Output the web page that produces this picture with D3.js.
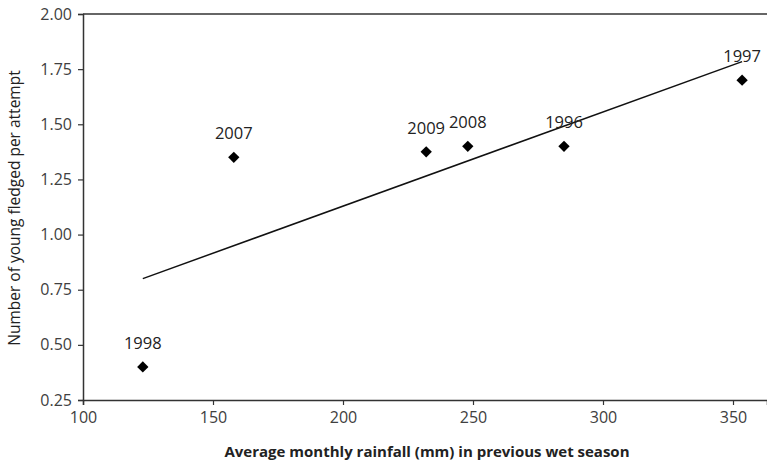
<!DOCTYPE html>
<html>
<head>
<meta charset="utf-8">
<script src="https://cdn.jsdelivr.net/npm/d3@7"></script>
<style>
  body { margin: 0; background: #fff; }
  svg { display: block; font-family: "Open Sans", "DejaVu Sans", sans-serif; }
</style>
</head>
<body>
<svg width="767" height="466"></svg>
<script>
// data
var years = ["1998", "2007", "2009", "2008", "1996", "1997"];
var rainfall = [123, 158, 232, 248, 285, 353.5];
var fledged = [0.40, 1.35, 1.375, 1.40, 1.40, 1.70];
var xTicks = [100, 150, 200, 250, 300, 350];
var yTicks = [0.25, 0.50, 0.75, 1.00, 1.25, 1.50, 1.75, 2.00];

var svg = d3.select("svg"),
    plotL = 83, plotT = 14, plotB = 400, plotR = 767;

var x = d3.scaleLinear().domain([100, 100 + (plotR - plotL) / 2.6]).range([plotL, plotR]);
var y = d3.scaleLinear().domain([0.25, 2.00]).range([plotB, plotT]);

var points = years.map(function (d, i) { return { year: d, x: rainfall[i], y: fledged[i] }; });

// least squares trendline through the points
var mx = d3.mean(rainfall), my = d3.mean(fledged);
var sxy = d3.sum(points, function (d) { return (d.x - mx) * (d.y - my); });
var sxx = d3.sum(points, function (d) { return (d.x - mx) * (d.x - mx); });
var slope = sxy / sxx, icpt = my - slope * mx;
var xmin = d3.min(rainfall), xmax = d3.max(rainfall);

// top border
svg.append("line")
    .attr("x1", plotL).attr("x2", plotR)
    .attr("y1", plotT).attr("y2", plotT)
    .attr("stroke", "#333").attr("stroke-width", 1.5);

var xAxis = svg.append("g")
    .attr("transform", "translate(0," + plotB + ")")
    .call(d3.axisBottom(x).tickValues(xTicks).tickSize(5).tickPadding(7).tickFormat(d3.format("d")));

var yAxis = svg.append("g")
    .attr("transform", "translate(" + plotL + ",0)")
    .call(d3.axisLeft(y).tickValues(yTicks).tickSize(5).tickPadding(6).tickFormat(d3.format(".2f")));

[xAxis, yAxis].forEach(function (a) {
    a.select(".domain").attr("stroke", "#333").attr("stroke-width", 1.5);
    a.selectAll(".tick line").attr("stroke", "#333").attr("stroke-width", 1.2);
    a.selectAll(".tick text")
        .attr("fill", "#404040")
        .style("font-size", "16px")
        .style("font-family", "'Open Sans', sans-serif");
});

// trendline
svg.append("line")
    .attr("x1", x(xmin)).attr("y1", y(icpt + slope * xmin))
    .attr("x2", x(xmax)).attr("y2", y(icpt + slope * xmax))
    .attr("stroke", "#111").attr("stroke-width", 1.5);

// diamond markers
svg.selectAll("path.pt")
    .data(points)
    .enter().append("path")
    .attr("class", "pt")
    .attr("d", d3.symbol().type(d3.symbolSquare).size(64))
    .attr("transform", function (d) { return "translate(" + x(d.x) + "," + y(d.y) + ") rotate(45)"; })
    .attr("fill", "#000");

// year labels
svg.selectAll("text.lbl")
    .data(points)
    .enter().append("text")
    .attr("class", "lbl")
    .attr("x", function (d) { return x(d.x); })
    .attr("y", function (d) { return y(d.y) - 18; })
    .attr("text-anchor", "middle")
    .attr("fill", "#222")
    .style("font-size", "16.5px")
    .text(function (d) { return d.year; });

// axis titles
svg.append("text")
    .attr("x", 427).attr("y", 457)
    .attr("text-anchor", "middle")
    .attr("fill", "#222")
    .style("font-size", "15px")
    .style("font-weight", "bold")
    .text("Average monthly rainfall (mm) in previous wet season");

svg.append("text")
    .attr("transform", "translate(20,208) rotate(-90)")
    .attr("text-anchor", "middle")
    .attr("fill", "#222")
    .style("font-size", "15.5px")
    .text("Number of young fledged per attempt");
</script>
</body>
</html>
